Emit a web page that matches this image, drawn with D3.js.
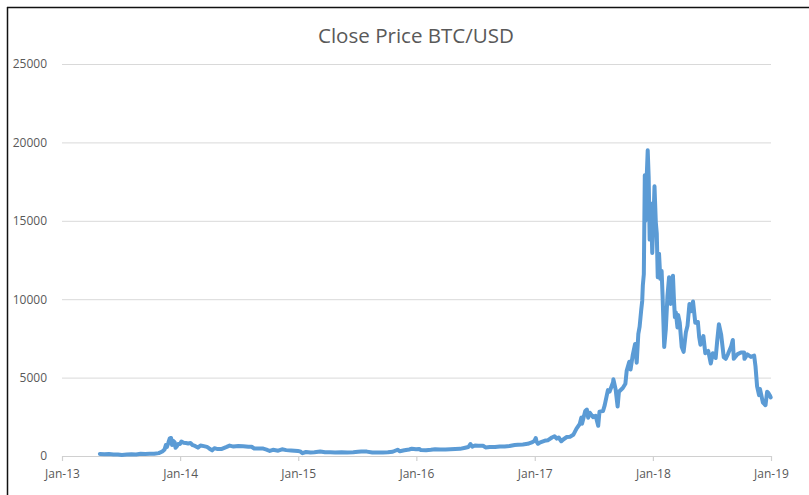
<!DOCTYPE html>
<html>
<head>
<meta charset="utf-8">
<script src="https://cdn.jsdelivr.net/npm/d3@7"></script>
<style>
  html, body { margin: 0; padding: 0; background: #fff; }
  svg { display: block; }
</style>
</head>
<body>
<svg id="chart" width="809" height="495"></svg>
<script>
const chartTitle = "Close Price BTC/USD";
const yTicks = [0, 5000, 10000, 15000, 20000, 25000];
const xTickDates = ["2013-01-01","2014-01-01","2015-01-01","2016-01-01","2017-01-01","2018-01-01","2019-01-01"];

const dates = [
"2013-04-28","2013-05-12","2013-05-26","2013-06-09","2013-06-23","2013-07-05","2013-07-20","2013-08-04","2013-08-18","2013-09-01",
"2013-09-15","2013-09-29","2013-10-13","2013-10-27","2013-11-07","2013-11-14","2013-11-18","2013-11-21","2013-11-25","2013-11-30",
"2013-12-04","2013-12-07","2013-12-10","2013-12-15","2013-12-18","2013-12-22","2013-12-26","2014-01-01","2014-01-05","2014-01-12",
"2014-01-19","2014-01-26","2014-02-02","2014-02-09","2014-02-16","2014-02-25","2014-03-05","2014-03-15","2014-03-25","2014-04-01",
"2014-04-10","2014-04-17","2014-04-27","2014-05-10","2014-05-25","2014-06-03","2014-06-15","2014-06-30","2014-07-15","2014-07-31",
"2014-08-10","2014-08-18","2014-08-31","2014-09-15","2014-09-25","2014-10-05","2014-10-15","2014-10-31","2014-11-12","2014-11-25",
"2014-12-10","2014-12-31","2015-01-07","2015-01-14","2015-01-25","2015-02-08","2015-02-20","2015-03-10","2015-03-25","2015-04-10",
"2015-04-25","2015-05-15","2015-06-01","2015-06-20","2015-07-05","2015-07-15","2015-08-01","2015-08-18","2015-09-01","2015-09-20",
"2015-10-05","2015-10-20","2015-11-04","2015-11-11","2015-11-25","2015-12-10","2015-12-18","2015-12-31","2016-01-10","2016-01-15",
"2016-01-31","2016-02-15","2016-02-28","2016-03-15","2016-03-31","2016-04-15","2016-04-30","2016-05-15","2016-05-31","2016-06-10",
"2016-06-16","2016-06-22","2016-06-30","2016-07-10","2016-07-25","2016-08-02","2016-08-15","2016-08-31","2016-09-15","2016-09-30",
"2016-10-15","2016-10-31","2016-11-10","2016-11-25","2016-12-10","2016-12-25","2016-12-31","2017-01-04","2017-01-07","2017-01-11",
"2017-01-18","2017-01-31","2017-02-10","2017-02-23","2017-03-03","2017-03-10","2017-03-16","2017-03-24","2017-03-31","2017-04-10",
"2017-04-20","2017-04-30","2017-05-10","2017-05-20","2017-05-25","2017-05-27","2017-06-06","2017-06-11","2017-06-15","2017-06-20",
"2017-06-30","2017-07-08","2017-07-16","2017-07-20","2017-07-31","2017-08-05","2017-08-15","2017-08-20","2017-08-31","2017-09-01",
"2017-09-08","2017-09-14","2017-09-18","2017-09-30","2017-10-08","2017-10-12","2017-10-20","2017-10-24","2017-10-31","2017-11-07",
"2017-11-12","2017-11-17","2017-11-21","2017-11-26","2017-11-29","2017-12-01","2017-12-04","2017-12-07","2017-12-09","2017-12-12",
"2017-12-16","2017-12-19","2017-12-22","2017-12-26","2017-12-30","2018-01-03","2018-01-06","2018-01-10","2018-01-13","2018-01-16",
"2018-01-20","2018-01-24","2018-01-28","2018-01-31","2018-02-05","2018-02-10","2018-02-15","2018-02-20","2018-02-25","2018-03-04",
"2018-03-07","2018-03-10","2018-03-13","2018-03-18","2018-03-20","2018-03-25","2018-03-31","2018-04-06","2018-04-13","2018-04-18",
"2018-04-24","2018-04-30","2018-05-05","2018-05-12","2018-05-20","2018-05-24","2018-05-28","2018-06-06","2018-06-12","2018-06-21",
"2018-06-29","2018-07-05","2018-07-14","2018-07-19","2018-07-24","2018-07-31","2018-08-08","2018-08-14","2018-08-21","2018-08-31",
"2018-09-05","2018-09-08","2018-09-20","2018-09-30","2018-10-10","2018-10-11","2018-10-20","2018-10-31","2018-11-10","2018-11-14",
"2018-11-19","2018-11-25","2018-11-28","2018-12-07","2018-12-15","2018-12-20","2018-12-24","2018-12-28","2018-12-31"
];

const closes = [
135,115,133,100,102,68,90,105,100,146,
126,141,138,183,290,420,700,570,800,1120,
1150,700,980,880,520,620,760,770,925,850,
830,800,825,690,640,535,670,630,580,480,
360,500,440,450,580,665,600,640,620,585,
590,480,480,475,410,320,395,338,425,375,
350,320,295,178,255,225,245,290,245,235,
230,237,225,245,270,290,280,225,228,231,
240,270,400,305,365,415,465,430,450,375,
370,400,435,415,415,430,450,455,530,575,
765,600,670,650,655,545,570,575,608,610,
640,700,715,740,775,890,965,1150,900,780,
870,970,1000,1180,1260,1110,1180,940,1070,1210,
1230,1350,1750,2040,2450,2050,2870,2960,2440,2760,
2480,2560,1930,2830,2875,3230,4200,4100,4700,4890,
4230,3150,4100,4340,4610,5430,6010,5520,6470,7140,
5950,7790,8250,9330,9890,10900,11600,17900,15000,17280,
19500,17780,13800,16100,12950,15200,17200,14900,14200,11400,
12900,11300,11800,10200,6950,8100,10200,11400,9700,11500,
10000,8860,9150,8200,9000,8500,6970,6640,7900,8300,
9700,9240,9850,8500,8550,7600,7100,7650,6550,6700,
5900,6550,6250,7400,8400,7730,6300,6200,6500,7000,
7400,6200,6500,6600,6600,6200,6480,6320,6400,5740,
4450,3880,4270,3400,3240,4100,4020,3880,3740
];

const parse = d3.timeParse("%Y-%m-%d");
const series = dates.map((d, i) => ({ date: parse(d), value: closes[i] }));

const svg = d3.select("#chart");
const plotLeft = 62, plotRight = 771, plotTop = 64, plotBottom = 456;

const x = d3.scaleTime()
  .domain([parse(xTickDates[0]), parse(xTickDates[xTickDates.length - 1])])
  .range([plotLeft, plotRight]);
const y = d3.scaleLinear().domain([0, 25000]).range([plotBottom, plotTop]);

svg.append("rect").attr("width", 809).attr("height", 495).attr("fill", "#fff");

// border
svg.append("line").attr("x1", 7).attr("x2", 809).attr("y1", 7.5).attr("y2", 7.5)
  .attr("stroke", "#111").attr("stroke-width", 1.5);
svg.append("line").attr("x1", 7.5).attr("x2", 7.5).attr("y1", 7).attr("y2", 495)
  .attr("stroke", "#111").attr("stroke-width", 1.5);

// title
svg.append("text")
  .attr("x", 416).attr("y", 43)
  .attr("text-anchor", "middle")
  .attr("font-family", "'Open Sans', sans-serif")
  .attr("font-size", 19.5)
  .attr("textLength", 196).attr("lengthAdjust", "spacingAndGlyphs")
  .attr("fill", "#595959")
  .text(chartTitle);

// y axis with gridlines
const yAxis = svg.append("g")
  .attr("transform", `translate(${plotLeft},0)`)
  .call(d3.axisLeft(y).tickValues(yTicks).tickSize(-(plotRight - plotLeft)).tickPadding(15).tickFormat(d3.format("d")));
yAxis.select(".domain").remove();
yAxis.selectAll(".tick line").attr("stroke", "#d9d9d9").attr("stroke-width", 1);
yAxis.selectAll(".tick text")
  .attr("font-family", "'Open Sans', sans-serif")
  .attr("font-size", 12)
  .attr("fill", "#595959");
yAxis.selectAll(".tick").filter(d => d === 0).select("line").remove();

// x axis
const xAxis = svg.append("g")
  .attr("transform", `translate(0,${plotBottom})`)
  .call(d3.axisBottom(x).tickValues(xTickDates.map(parse)).tickSize(5).tickSizeOuter(0).tickPadding(8.5)
    .tickFormat(d3.timeFormat("%b-%y")));
xAxis.select(".domain").attr("stroke", "#d0d0d0").attr("stroke-width", 1.2);
xAxis.selectAll(".tick line").attr("stroke", "#d0d0d0").attr("stroke-width", 1.2);
xAxis.selectAll(".tick text")
  .attr("font-family", "'Open Sans', sans-serif")
  .attr("font-size", 12)
  .attr("fill", "#595959");

// line
const line = d3.line().x(d => x(d.date)).y(d => y(d.value));
svg.append("path")
  .datum(series)
  .attr("d", line)
  .attr("fill", "none")
  .attr("stroke", "#5B9BD5")
  .attr("stroke-width", 4)
  .attr("stroke-linejoin", "round")
  .attr("stroke-linecap", "round");
</script>
</body>
</html>
